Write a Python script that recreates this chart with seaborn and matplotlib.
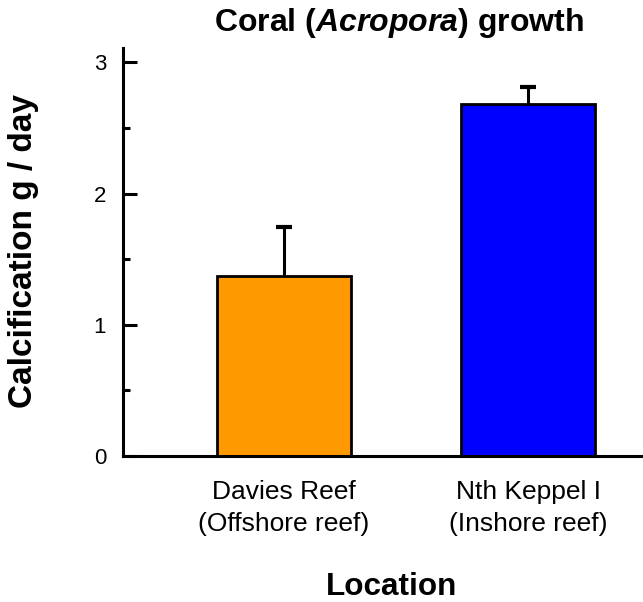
import matplotlib
matplotlib.use("Agg")
import matplotlib.pyplot as plt
import seaborn as sns
import pandas as pd
from matplotlib.ticker import MultipleLocator

locations = ["Davies Reef\n(Offshore reef)", "Nth Keppel I\n(Inshore reef)"]
calcification = [1.37, 2.68]
error = [0.375, 0.135]
colors = ["#FF9900", "#0000FF"]

sns.set_style("white")
plt.rcParams["font.family"] = ["Liberation Sans", "DejaVu Sans"]
plt.rcParams["text.color"] = "black"
plt.rcParams["xtick.color"] = "black"
plt.rcParams["ytick.color"] = "black"
plt.rcParams["axes.labelcolor"] = "black"
plt.rcParams["mathtext.fontset"] = "custom"
plt.rcParams["mathtext.it"] = "Liberation Sans:italic:bold"
plt.rcParams["mathtext.rm"] = "Liberation Sans:bold"
plt.rcParams["mathtext.bf"] = "Liberation Sans:bold"

df = pd.DataFrame({"loc": locations, "val": calcification})

fig = plt.figure(figsize=(6.43, 6.02), dpi=100)
ax = fig.add_axes([122.7/643, 1-456/602, 1-122.7/643, (456-48)/602])

sns.barplot(data=df, x="loc", y="val", hue="loc", palette=colors, legend=False,
            width=0.55, edgecolor="black", linewidth=2.0, ax=ax, saturation=1)
for p in ax.patches:
    p.set_zorder(2)
ax.errorbar(range(len(locations)), calcification, yerr=error,
            fmt="none", ecolor="black", elinewidth=2.2, capsize=6, capthick=3, zorder=1)

ax.set_ylim(0, 3.11)
ax.set_xlim(-0.66, 1.47)
ax.yaxis.set_major_locator(MultipleLocator(1))
ax.yaxis.set_minor_locator(MultipleLocator(0.5))
ax.tick_params(axis="y", which="major", direction="in", length=10, width=2.2,
               labelsize=16, pad=12, left=True, colors="black")
ax.tick_params(axis="y", which="minor", direction="in", length=5, width=2.2, left=True)
ax.tick_params(axis="x", length=0, labelsize=19, pad=17, colors="black")
for lab in ax.get_xticklabels():
    lab.set_linespacing(1.45)

for s in ["top", "right"]:
    ax.spines[s].set_visible(False)
for s in ["left", "bottom"]:
    ax.spines[s].set_linewidth(2.2)
    ax.spines[s].set_color("black")
    ax.spines[s].set_zorder(3)

ax.set_xlabel("")
ax.set_ylabel("")
fig.text(392/643, 1-587/602, "Location", ha="center", va="center",
         fontsize=22.7, fontweight="bold", color="black")
fig.text(24/643, 1-251/602, "Calcification g / day", ha="center", va="center",
         rotation=90, fontsize=24, fontweight="bold", color="black")
fig.text(399/643, 1-23/602, r"Coral ($\it{Acropora}$) growth", ha="center", va="center",
         fontsize=23, fontweight="bold", color="black")

fig.savefig("out.png", dpi=100)
